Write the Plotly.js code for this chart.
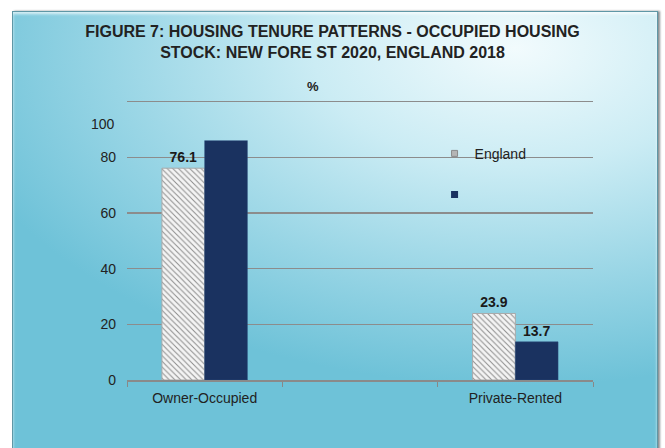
<!DOCTYPE html>
<html>
<head>
<meta charset="utf-8">
<script src="https://cdn.plot.ly/plotly-3.0.1.min.js"></script>
<style>
  body { margin: 0; background: #ffffff; }
  #wrap { position: relative; width: 665px; height: 448px; overflow: hidden; }
  #bg {
    position: absolute; left: 12px; top: 11px; width: 644px; height: 450px;
    border: 1px solid #5f97a6;
    box-shadow: 2px 0 2px #8a8f92, inset 0 2px 3px rgba(255,255,255,0.7);
    background: radial-gradient(ellipse 90% 75% at 78% 8%, #f2fbfd 0%, #cbecf4 35%, #98d5e5 70%, #6ec2d8 100%);
  }
  #chart { position: absolute; left: 0; top: 0; width: 665px; height: 448px; }
</style>
</head>
<body>
<div id="wrap">
  <div id="bg"></div>
  <div id="chart"></div>
</div>
<script>
// categories (middle slot is empty in the original chart)
const categories = ['Owner-Occupied', ' ', 'Private-Rented'];
const englandValues = [76.1, null, 23.9];
const englandLabels = ['76.1', '', '23.9'];
const newForestValues = [86, null, 13.7];
const newForestLabels = ['', '', '13.7'];
const yTicks = [0, 20, 40, 60, 80, 100];
const yTickText = ['0', '20', '40', '60', '80', ''];

const labelFont = { family: 'Liberation Sans, Arial, sans-serif', size: 14, color: '#1a1a1a', weight: 'bold' };

const england = {
  x: categories,
  y: englandValues,
  text: englandLabels,
  type: 'bar',
  name: 'England',
  showlegend: false,
  textposition: 'outside',
  cliponaxis: false,
  textfont: labelFont,
  marker: {
    color: '#ffffff',
    line: { color: '#a9a9a9', width: 1 },
    pattern: { shape: '\\', fgcolor: '#8c8c8c', bgcolor: '#f4f4f4', size: 4, solidity: 0.25 }
  },
  hoverinfo: 'skip'
};

const newForest = {
  x: categories,
  y: newForestValues,
  text: newForestLabels,
  type: 'bar',
  name: '',
  showlegend: false,
  textposition: 'outside',
  cliponaxis: false,
  textfont: labelFont,
  marker: { color: '#1a3260', line: { color: '#2a4a7a', width: 0.5 } },
  hoverinfo: 'skip'
};

// small legend keys, as in the original
const englandKey = {
  x: [null], y: [null], type: 'scatter', mode: 'markers', name: 'England',
  legendgroup: 'a',
  marker: { symbol: 'square', size: 6, color: '#b5b5b5', line: { color: '#8a8a8a', width: 1 } }
};
const newForestKey = {
  x: [null], y: [null], type: 'scatter', mode: 'markers', name: '',
  legendgroup: 'b',
  marker: { symbol: 'square', size: 7, color: '#1a3260' }
};

const layout = {
  width: 665,
  height: 448,
  paper_bgcolor: 'rgba(0,0,0,0)',
  plot_bgcolor: 'rgba(0,0,0,0)',
  margin: { l: 127, r: 72, t: 100, b: 68 },
  barmode: 'group',
  bargap: 0.45,
  bargroupgap: 0,
  showlegend: true,
  legend: {
    x: 0.66, y: 0.865, xanchor: 'left', yanchor: 'top',
    bgcolor: 'rgba(0,0,0,0)',
    font: { family: 'Liberation Sans, Arial, sans-serif', size: 14, color: '#222' },
    traceorder: 'grouped',
    tracegroupgap: 20,
    itemwidth: 30
  },
  title: {
    text: 'FIGURE 7: HOUSING TENURE PATTERNS - OCCUPIED HOUSING<br>STOCK: NEW FORE ST 2020, ENGLAND 2018',
    x: 0.5, xanchor: 'center', y: 0.918, yanchor: 'top',
    font: { family: 'Liberation Sans Narrow, Arial Narrow, Liberation Sans, sans-serif', size: 16, color: '#222', weight: 'bold' }
  },
  xaxis: {
    type: 'category',
    tickson: 'boundaries',
    ticks: 'outside',
    ticklen: 5,
    tickcolor: '#888',
    showline: true,
    linecolor: '#8a8a8a',
    linewidth: 1.5,
    showgrid: false,
    ticklabelstandoff: 5,
    tickfont: { family: 'Liberation Sans, Arial, sans-serif', size: 14, color: '#222' },
    fixedrange: true
  },
  yaxis: {
    range: [0, 100.6],
    tickvals: yTicks,
    ticktext: yTickText,
    showgrid: true,
    gridcolor: '#8c8c8c',
    gridwidth: 1.5,
    zeroline: false,
    showline: false,
    ticks: '',
    ticklabelstandoff: 10,
    tickfont: { family: 'Liberation Sans, Arial, sans-serif', size: 14, color: '#222' },
    fixedrange: true
  },
  annotations: [
    {
      text: '<b>%</b>', xref: 'paper', yref: 'paper', x: 0.4, y: 1.0,
      xanchor: 'center', yanchor: 'bottom', yshift: 4, showarrow: false,
      font: { family: 'Liberation Sans, Arial, sans-serif', size: 13, color: '#222' }
    },
    {
      // the original draws the "100" label below its gridline
      text: '100', xref: 'paper', yref: 'y', x: 0, y: 92,
      xanchor: 'right', yanchor: 'middle', xshift: -10, showarrow: false,
      font: { family: 'Liberation Sans, Arial, sans-serif', size: 14, color: '#222' }
    }
  ]
};

Plotly.newPlot('chart', [england, newForest, englandKey, newForestKey], layout, { displayModeBar: false, staticPlot: true });
</script>
</body>
</html>
